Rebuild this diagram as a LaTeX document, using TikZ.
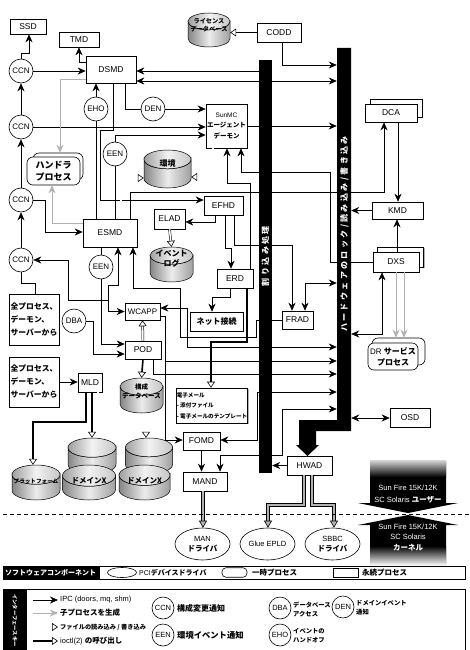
\documentclass[tikz,border=0pt]{standalone}
\usepackage{fontspec}
\setmainfont{Liberation Sans}
\newfontfamily\jp{Noto Sans CJK JP}
\newfontfamily\jpsp{Noto Sans CJK JP}[LetterSpace=30]
\usetikzlibrary{arrows.meta,shadows,shapes.geometric}
\newcommand{\jb}{\jp\bfseries}
\newcommand{\mycyl}[8]{%
  \pgfmathsetmacro{\cxa}{#2-#4/2}%
  \pgfmathsetmacro{\cxb}{#2+#4/2}%
  \pgfmathsetmacro{\crx}{#4/2}%
  \pgfmathsetmacro{\cry}{#4*0.2}%
  \pgfmathsetmacro{\cyt}{#3+\cry}%
  \pgfmathsetmacro{\cyb}{#3+#5-\cry}%
  \path[draw,line width=0.5pt,left color=gray!95,right color=gray!75,middle color=gray!15]
    (\cxa,\cyt) -- (\cxa,\cyb) arc[start angle=180,end angle=0,x radius=\crx,y radius=\cry]
    -- (\cxb,\cyt) arc[start angle=0,end angle=180,x radius=\crx,y radius=\cry] -- cycle;
  \path[draw,line width=0.5pt,left color=gray!75,right color=gray!45,middle color=gray!10]
    (#2,\cyt) ellipse[x radius=\crx,y radius=\cry];
  \node[minimum width=#4pt,minimum height=#5pt] (#1) at (#2,{#3+#5/2}) {};
  \node[font=\jb\fontsize#7\selectfont] (#1t) at (#2,#6) {#8};
}
\begin{document}
\begin{tikzpicture}[x=1pt,y=-1pt,
  every node/.style={inner sep=0pt,align=center,font=\fontsize{8.5}{10}\selectfont},
  box/.style={draw,fill=white,line width=0.6pt,drop shadow={shadow xshift=1.3pt,shadow yshift=-1.3pt,fill=gray!60,opacity=1}},
  rbox/.style={draw,fill=white,line width=0.6pt,rounded corners=6pt},
  circ/.style={circle,draw,fill=white,minimum size=24pt,line width=0.6pt,font=\fontsize{8}{9}\selectfont},
  lcirc/.style={circle,draw,fill=white,minimum size=22pt,line width=0.6pt,font=\fontsize{7.5}{9}\selectfont},
  ipc/.style={line width=0.7pt,-{Stealth[length=8pt,width=7pt]}},
  ipcb/.style={line width=0.7pt,{Stealth[length=8pt,width=7pt]}-{Stealth[length=8pt,width=7pt]}},
  spawn/.style={draw=gray!60,line width=0.9pt,-{Stealth[length=8pt,width=7pt]}},
  rw/.style={double,double distance=1.5pt,line width=0.5pt,-{Triangle[length=6pt,width=8pt,fill=white,line width=0.6pt]}},
  ioc/.style={line width=1.6pt,-{Triangle[length=6pt,width=8pt,fill=white,line width=0.6pt]}},
  drv/.style={double=gray!60,double distance=2pt,line width=0.6pt,-{Triangle[length=7pt,width=8pt,fill=gray!60,line width=0.6pt]}},
  jt/.style={font=\jb\fontsize{#1}{#1}\selectfont},
]
\useasboundingbox (0,0) rectangle (470,650);
\clip (0,0) rectangle (470,650);
\fill[white] (0,0) rectangle (470,650);

% invisible bar anchors
\path node[minimum width=13pt,minimum height=413pt] (LB) at (265.5,266.5) {};
\path node[minimum width=14pt,minimum height=383pt] (RB) at (344,239.5) {};

% ---------- nodes ----------
\node[box,minimum width=36pt,minimum height=15pt] (SSD) at (28,26.5) {SSD};
\node[box,minimum width=40pt,minimum height=15pt] (TMD) at (79,39.5) {TMD};
\node[box,minimum width=50pt,minimum height=27pt] (DSMD) at (111,69.5) {DSMD};
\node[box,minimum width=44pt,minimum height=19pt] (CODD) at (279,32.5) {CODD};
\mycyl{lic}{209}{13}{42}{34}{25}{{6.2}{8}}{ライセンス\\データベース}
\node[box,minimum width=41pt,minimum height=44pt,font=\fontsize{6.5}{10.5}\selectfont] (SunMC) at (226.5,126) {SunMC\\{\jb エージェント}\\{\jb デーモン}};
\mycyl{env}{167.5}{150}{47}{38}{163}{{8}{9}}{環境}
\node[rbox,minimum width=50pt,minimum height=27pt] (hb) at (58,166.5) {};
\node[rbox,minimum width=53pt,minimum height=28pt,font=\jb\fontsize{9}{12}\selectfont] (hf) at (53.5,171) {ハンドラ\\プロセス};
\node[box,minimum width=52pt,minimum height=18pt] (DCAb) at (396,108) {};
\node[box,minimum width=52pt,minimum height=18pt] (DCA) at (391,113) {DCA};
\node[box,minimum width=39pt,minimum height=19pt] (EFHD) at (223.5,205.5) {EFHD};
\node[box,minimum width=31pt,minimum height=20pt] (ELAD) at (169.5,219) {ELAD};
\mycyl{elog}{171.5}{247}{43}{35}{259}{{8}{10}}{イベント\\ログ}
\node[box,minimum width=54pt,minimum height=28pt] (ESMD) at (110,233) {ESMD};
\node[box,minimum width=51pt,minimum height=17pt] (KMD) at (397.5,210.5) {KMD};
\node[box,minimum width=46pt,minimum height=20pt] (DXSb) at (400.5,257) {};
\node[box,minimum width=46pt,minimum height=20pt] (DXS) at (396,262) {DXS};
\node[box,minimum width=36pt,minimum height=19pt] (ERD) at (235,278.5) {ERD};
\node[box,minimum width=53pt,minimum height=19pt,jt=8] (net) at (216.5,321.5) {ネット接続};
\node[box,minimum width=31pt,minimum height=18pt] (FRAD) at (297.5,320) {FRAD};
\node[rbox,minimum width=53pt,minimum height=27pt] (DRb) at (398.5,351.5) {};
\node[rbox,minimum width=50pt,minimum height=27pt,font=\fontsize{8}{11}\selectfont] (DR) at (393,356.5) {DR {\jb サービス}\\{\jb プロセス}};
\node[box,minimum width=50pt,minimum height=51pt,align=left,font=\jb\fontsize{7.8}{13}\selectfont] (box1) at (34,319.5) {全プロセス、\\デーモン、\\サーバーから};
\node[circ] (DBA) at (74,321) {DBA};
\node[box,minimum width=35pt,minimum height=17pt,font=\fontsize{8}{9}\selectfont] (WCAPP) at (142.5,311.5) {WCAPP};
\node[box,minimum width=36pt,minimum height=18pt] (POD) at (143,350) {POD};
\node[box,minimum width=50pt,minimum height=50pt,align=left,font=\jb\fontsize{7.8}{13}\selectfont] (box2) at (34,382) {全プロセス、\\デーモン、\\サーバーから};
\node[box,minimum width=24pt,minimum height=19pt] (MLD) at (90,382.5) {MLD};
\mycyl{cdb}{141.5}{378}{43}{35}{391}{{6.5}{9}}{構成\\データベース}
\node[box,minimum width=70pt,minimum height=35pt,align=left,font=\jb\fontsize{5.6}{10.5}\selectfont] (mail) at (212,405.5) {電子メール\\- 添付ファイル\\- 電子メールのテンプレート};
\node[box,minimum width=37pt,minimum height=18pt] (FOMD) at (201.5,441) {FOMD};
\node[box,minimum width=44pt,minimum height=19pt] (MAND) at (205,481.5) {MAND};
\node[box,minimum width=45pt,minimum height=19pt] (HWAD) at (309.5,465.5) {HWAD};
\node[box,minimum width=40pt,minimum height=19pt] (OSD) at (410,417.5) {OSD};
\mycyl{dom1b}{92}{438}{48}{36}{452}{{8}{9}}{}
\mycyl{dom2b}{149}{438}{47}{36}{452}{{8}{9}}{}
\mycyl{plat}{36}{465}{48}{35}{481}{{5.6}{7}}{プラットフォーム}
\mycyl{dom1}{89}{465}{53}{35}{481}{{7.5}{9}}{ドメインX}
\mycyl{dom2}{144.5}{465}{51}{35}{481}{{7.5}{9}}{ドメインX}
\node[ellipse,draw,fill=white,line width=0.6pt,minimum width=55pt,minimum height=32pt,font=\fontsize{7.5}{10}\selectfont] (man) at (202.5,544) {MAN\\{\jb ドライバ}};
\node[ellipse,draw,fill=white,line width=0.6pt,minimum width=55pt,minimum height=32pt,font=\fontsize{7.5}{10}\selectfont] (glue) at (267.5,544) {Glue EPLD};
\node[ellipse,draw,fill=white,line width=0.6pt,minimum width=55pt,minimum height=32pt,font=\fontsize{7.5}{10}\selectfont] (sbbc) at (332.5,544) {SBBC\\{\jb ドライバ}};

\node[circ] (CCN1) at (21,71) {CCN};
\node[circ] (CCN2) at (21,127) {CCN};
\node[circ] (CCN3) at (21,200) {CCN};
\node[circ] (CCN4) at (21,260) {CCN};
\node[circ] (EHO) at (96,109) {EHO};
\node[circ] (DEN) at (153,109) {DEN};
\node[circ] (EEN1) at (115,154) {EEN};
\node[circ] (EEN2) at (101,267) {EEN};

% ---------- connectors ----------
\draw[ipc] (CCN1.north) |- (29,53) -- (SSD.south -| 29,0);
\draw[ipc] (CCN1.east) -- (CCN1.east -| DSMD.west);
\draw[ipc] (CCN2.north) -- (CCN1.south);
\draw[ipc] (CCN2.east) -- (CCN2.east -| SunMC.west);
\draw[ipc] (CCN3.north) -- (CCN2.south);
\draw[ipc] (CCN4.north) -- (CCN3.south);
\draw[ipc] (CCN3.east) -- (45,200) |- (ESMD.west |- 0,232);
\draw[line width=0.7pt] (box1.north -| 35,0) |- (21,283) -- (CCN4.south);
\draw[ipc] (DSMD.west |- 0,62) -| (TMD.south -| 79,0);
\draw[spawn] (DSMD.west |- 0,79) -| (hb.north -| 60,0);
\draw[spawn] (ESMD.west |- 0,223) -| (hf.south -| 52,0);
\draw[ipc] (LB.west |- 0,71) -- (DSMD.east |- 0,71);
\draw[ipcb] (DSMD.east |- 0,81) -- (RB.west |- 0,81);
\draw[ipc] (CODD.south -| 282,0) |- (RB.west |- 0,65);
\draw[ioc] (CODD.west) -- (CODD.west -| lic.east);
\draw[ipc] (SunMC.east |- 0,126) -- (RB.west |- 0,126);
\draw[line width=0.7pt] (DSMD.south -| 125,0) |- (DEN.west);
\draw[ipc] (DEN.east) -- (DEN.east -| SunMC.west);
\draw[ipc] (EHO.north) -- (EHO.north |- DSMD.south);
\draw[line width=0.7pt] (ESMD.north -| 96,0) -- (EHO.south);
\draw[ipc] (DSMD.south -| 113,0) -- (113,130) -- (100,130) |- (EFHD.west |- 0,200);
\draw[line width=0.7pt] (ESMD.north -| 115,0) -- (EEN1.south);
\draw[ipc] (EEN1.north) |- (SunMC.west |- 0,135);
\draw[rw] (ESMD.north -| 121,0) |- (env.west |- 0,178);
\draw[rw] (SunMC.south -| 213,0) |- (env.east |- 0,177);
\draw[ipc] (ERD.north -| 250,0) |- (227,183) -- (SunMC.south -| 227,0);
\draw[ipc] (DXS.west) -| (330,172) -| (SunMC.south -| 241,0);
\draw[ipc] (ESMD.north -| 130,0) |- (384,192) -- (DCA.south -| 384,0);
\draw[ipc] (DCA.south -| 398,0) -- (KMD.north -| 398,0);
\draw[ipc] (KMD.west) -- (KMD.west -| RB.east);
\draw[ipc] (DXS.north -| 397,0) -- (KMD.south -| 397,0);
\draw[spawn] (DXS.south -| 396,0) -- (DRb.north -| 396,0);
\draw[spawn] (DXS.south -| 404,0) -- (DRb.north -| 404,0);
\draw[ipcb] (RB.east |- 0,334) -| (DXS.south -| 382,0);
\draw[ipc] (EFHD.south -| 215,0) |- (ELAD.east |- 0,222);
\draw[rw] (ELAD.south) -- (elog.north);
\draw[ipc] (EFHD.south -| 225,0) |- (231,248) -- (ERD.north -| 231,0);
\draw[ipc] (EFHD.south -| 234,0) |- (292,245) -- (FRAD.north -| 292,0);
\draw[ipc] (ERD.south -| 230,0) |- (212,297) -- (net.north -| 212,0);
\draw[ioc] (ERD.south -| 247,0) |- (211,342) -- (mail.north -| 211,0);
\draw[ipcb] (FRAD.north -| 305,0) |- (RB.west |- 0,283);
\draw[ipc] (FRAD.west) -- (256,320) -- (256,337) -- (180,337) -- (180,288) -- (133,288) -- (ESMD.south -| 133,0);
\draw[ipcb] (WCAPP.west) -| (108,285) -| (ESMD.south -| 118,0);
\draw[ipc] (108,300) -| (68,260) -- (CCN4.east);
\draw[line width=0.7pt] (ESMD.south -| 101,0) -- (EEN2.north);
\draw[ipc] (EEN2.south) |- (POD.west |- 0,344);
\draw[ipc] (DBA.east) -| (93,354) -- (POD.west |- 0,354);
\draw[rw] (POD.north) -- (WCAPP.south);
\draw[ioc] (POD.south) -- (cdb.north);
\draw[ipcb] (RB.west |- 0,347) -| (187,308) -- (WCAPP.east |- 0,308);
\draw[ipc] (WCAPP.east |- 0,316) -- (165,316) -- (165,440) -- (FOMD.west |- 0,440);
\draw[ipc] (165,361) -- (RB.west |- 0,361);
\draw[ipc] (POD.south -| 153,0) |- (RB.west |- 0,374);
\draw[ipcb] (FOMD.east |- 0,440) -- (257,440) |- (RB.west |- 0,392);
\draw[ipcb] (RB.west |- 0,409) -| (282,455) -| (MAND.north -| 220,0);
\draw[ipc] (FOMD.south) -- (MAND.north -| FOMD.south);
\draw[ipc] (HWAD.west) -- (HWAD.west -| LB.east);
\draw[ipcb] (RB.east |- 0,418) -- (OSD.west |- 0,418);
\draw[ipc] (box2.east |- 0,382) -- (MLD.west |- 0,382);
\draw[ioc] (MLD.south -| 86,0) |- (33,422) -- (plat.north -| 33,0);
\draw[ioc] (MLD.south -| 92,0) -- (dom1b.north -| 92,0);
\draw[rw] (MLD.south -| 98,0) |- (146,422) -- (dom2b.north -| 146,0);
\draw[drv] (MAND.south -| 203,0) -- (man.north -| 203,0);
\draw[drv] (HWAD.south -| 304,0) |- (268,505) -- (glue.north -| 268,0);
\draw[drv] (HWAD.south -| 312,0) |- (334,505) -- (sbbc.north -| 334,0);

% ---------- bars ----------
\fill (LB.north west) rectangle (LB.south east);
\fill (337,48) -- (351,48) -- (351,431) -- (316,431) -- (316,445) -- (319,445) -- (307.5,456) -- (296,445) -- (299,445) -- (299,420) -- (337,420) -- cycle;
\node[rotate=90,text=white,font=\jpsp\bfseries\fontsize{8}{8}\selectfont] (rbt) at (344.5,234) {ハードウェアのロック/読み込み/書き込み};
\node[rotate=90,text=white,font=\jpsp\bfseries\fontsize{8}{8}\selectfont] (lbt) at (265.5,256) {割り込み処理};

% ---------- user / kernel ----------
\draw[line width=0.6pt,dash pattern=on 4pt off 3pt] (3,514) -- (470,514);
\fill (370,461) -- (446,461) -- (446,503) -- (458,503) -- (408,513) -- (358,503) -- (370,503) -- cycle;
\shade[top color=gray!35,bottom color=black] (370,460.5) rectangle (446,477);
\fill (408,515) -- (458,525) -- (446,525) -- (446,564) -- (370,564) -- (370,525) -- (358,525) -- cycle;
\shade[top color=black,bottom color=white] (370,546) rectangle (446,565.5);
\node[text=white,font=\fontsize{7.5}{8}\selectfont] (su1) at (408,488) {Sun Fire 15K/12K};
\node[text=white,font=\fontsize{7.5}{8}\selectfont] (su2) at (408,499.5) {SC Solaris {\jb ユーザー}};
\node[text=white,font=\fontsize{7.5}{8}\selectfont] (sk1) at (408,527) {Sun Fire 15K/12K};
\node[text=white,font=\fontsize{7.5}{8}\selectfont] (sk2) at (408,537) {SC Solaris};
\node[text=white,jt=7.5] (sk3) at (408,548) {カーネル};

% ---------- legend: software components ----------
\draw[line width=0.7pt,fill=white] (3,566) rectangle (465,579);
\fill (3,566) rectangle (100,579);
\node[anchor=west,text=white,jt=7] (lgA) at (5,572.5) {ソフトウェアコンポーネント};
\node[ellipse,draw,fill=white,line width=0.6pt,minimum width=29pt,minimum height=10pt] (lpci) at (122,572.5) {};
\node[anchor=west,font=\fontsize{7}{7}\selectfont] (lpcit) at (139,572.5) {PCI{\jb デバイスドライバ}};
\node[draw,fill=white,line width=0.6pt,rounded corners=4pt,minimum width=25pt,minimum height=9.5pt] (ltmp) at (234.5,572.5) {};
\node[anchor=west,jt=7.5] (ltmpt) at (252,572.5) {一時プロセス};
\node[draw=black,fill=white,line width=0.5pt,minimum width=25pt,minimum height=9.5pt] (lper) at (345.5,572.5) {};
\node[anchor=west,jt=7.5] (lpert) at (362,572.5) {永続プロセス};

% ---------- legend: interface key ----------
\draw[line width=0.7pt] (3,589) rectangle (465,655);
\fill (3,589) rectangle (27,655);
\node[rotate=-90,anchor=west,text=white,font=\jb\fontsize{5.3}{5.3}\selectfont] (lgB) at (15,594) {インターフェースキー};
\coordinate (l1a) at (33,600); \coordinate (l1b) at (58,600);
\coordinate (l2a) at (33,613); \coordinate (l2b) at (58,613);
\coordinate (l3a) at (33,627); \coordinate (l3b) at (58,627);
\coordinate (l4a) at (33,641); \coordinate (l4b) at (58,641);
\draw[ipc] (l1a) -- (l1b);
\draw[spawn] (l2a) -- (l2b);
\draw[rw] (l3a) -- (l3b);
\draw[ioc] (l4a) -- (l4b);
\node[anchor=west,font=\fontsize{7.5}{8}\selectfont] (lt1) at (60,600) {IPC (doors, mq, shm)};
\node[anchor=west,jt=7.5] (lt2) at (60,613) {子プロセスを生成};
\node[anchor=west,jt=6.2] (lt3) at (60,627) {ファイルの読み込み / 書き込み};
\node[anchor=west,font=\fontsize{7.5}{8}\selectfont] (lt4) at (60,641) {ioctl(2) {\jb の呼び出し}};
\node[lcirc] (lCCN) at (163,608) {CCN};
\node[anchor=west,jt=8] (lCCNt) at (177,608) {構成変更通知};
\node[lcirc] (lEEN) at (163,635) {EEN};
\node[anchor=west,jt=8.3] (lEENt) at (177,635) {環境イベント通知};
\node[lcirc] (lDBA) at (280,608) {DBA};
\node[anchor=west,align=left,font=\jb\fontsize{6.3}{9}\selectfont] (lDBAt) at (293,609) {データベース\\アクセス};
\node[lcirc] (lEHO) at (280,635) {EHO};
\node[anchor=west,align=left,font=\jb\fontsize{6.3}{9}\selectfont] (lEHOt) at (293,636) {イベントの\\ハンドオフ};
\node[lcirc] (lDEN) at (343,607) {DEN};
\node[anchor=west,align=left,font=\jb\fontsize{6.3}{9}\selectfont] (lDENt) at (356,608) {ドメインイベント\\通知};
\end{tikzpicture}
\end{document}
